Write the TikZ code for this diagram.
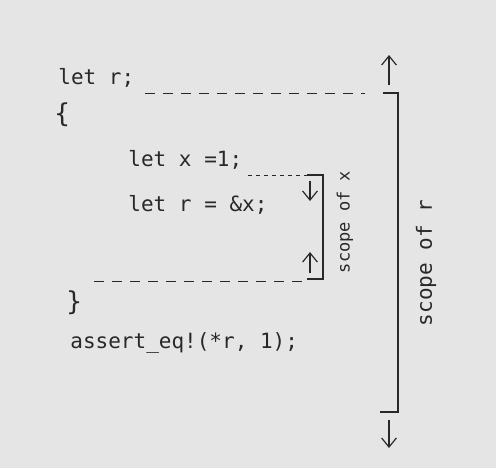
\documentclass[tikz,border=0pt]{standalone}
\usepackage{fontspec}
\setmonofont{DejaVu Sans Mono}
\usepackage{xcolor}
\usetikzlibrary{arrows.meta,positioning}
\definecolor{paper}{RGB}{229,229,229}
\definecolor{pencil}{RGB}{40,40,40}

\begin{document}
\begin{tikzpicture}[
  x=0.5pt, y=-0.5pt,
  code/.style={font=\ttfamily\fontsize{10.5}{12}\selectfont, text=pencil,
               anchor=west, inner sep=0pt},
  lbl/.style={font=\ttfamily\fontsize{10}{12}\selectfont, text=pencil,
              rotate=90, inner sep=0pt},
  guide/.style={draw=pencil, line width=0.5pt, dash pattern=on 5pt off 4pt},
  dots/.style={draw=pencil, line width=0.5pt, dash pattern=on 2pt off 2pt},
  brk/.style={draw=pencil, line width=0.7pt},
  arr/.style={-{Straight Barb[length=1.6mm, width=2.6mm]}, draw=pencil, line width=0.6pt}
]
  \fill[paper] (0,0) rectangle (496,468);

  % Code lines
  \node[code] (letr) at (58,78) {let r;};
  \node[code, font=\ttfamily\fontsize{13}{14}\selectfont] (lbrace) at (54,115) {\{};
  \node[code] (letx) at (128,160) {let x =1;};
  \node[code] (letrx) at (128,205) {let r = \&x;};
  \node[code, font=\ttfamily\fontsize{13}{14}\selectfont] (rbrace) at (66,303) {\}};
  \node[code] (assert) at (70,343) {assert\_eq!(*r, 1);};

  % Scope of r
  \coordinate (rdash) at (145,93);
  \coordinate (rtick) at (383,93);
  \coordinate (rtop) at (398,93);
  \coordinate (rbot) at (398,412);
  \coordinate (rend) at (380,412);
  \coordinate (rup0) at (389,85);
  \coordinate (rup1) at (389,55);
  \coordinate (rdn0) at (389,420);
  \coordinate (rdn1) at (389,448);
  \draw[guide] (rdash) -- (365,93);
  \draw[brk] (rtick) -- (rtop) -- (rbot) -- (rend);
  \draw[arr] (rup0) -- (rup1);
  \draw[arr] (rdn0) -- (rdn1);
  \node[lbl, font=\ttfamily\fontsize{10.5}{12}\selectfont] (scoper) at (426,263) {scope of r};

  % Scope of x
  \coordinate (xdot) at (248,175);
  \coordinate (xtick) at (307,175);
  \coordinate (xtop) at (323,175);
  \coordinate (xbot) at (323,279);
  \coordinate (xend) at (307,279);
  \coordinate (xdash) at (94,281);
  \coordinate (xdn0) at (310,181);
  \coordinate (xdn1) at (310,201);
  \coordinate (xup0) at (310,273);
  \coordinate (xup1) at (310,252);
  \draw[dots] (xdot) -- (xtick);
  \draw[guide] (xdash) -- (305,281);
  \draw[brk] (xtick) -- (xtop) -- (xbot) -- (xend);
  \draw[arr] (xdn0) -- (xdn1);
  \draw[arr] (xup0) -- (xup1);
  \node[lbl, font=\ttfamily\fontsize{8.5}{10}\selectfont] (scopex) at (345,222) {scope of x};
\end{tikzpicture}
\end{document}
